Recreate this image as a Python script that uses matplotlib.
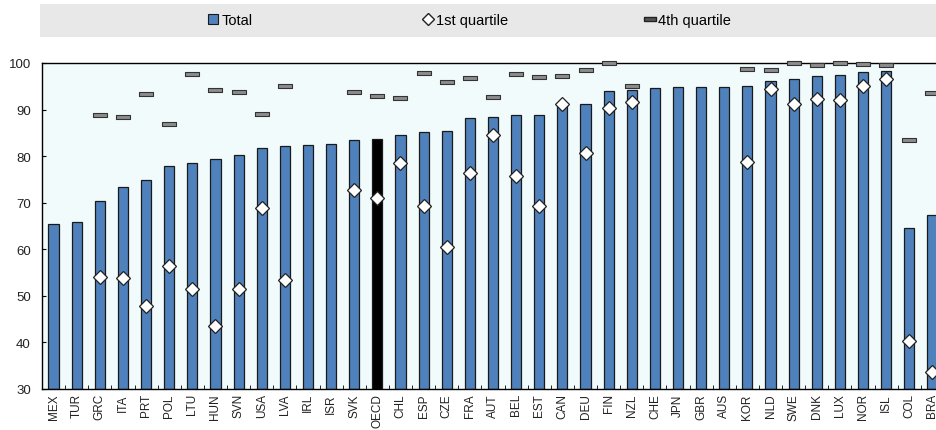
import matplotlib
matplotlib.use("Agg")
import matplotlib.pyplot as plt
from matplotlib import font_manager
from matplotlib.lines import Line2D
from matplotlib.patches import Patch, Rectangle
import numpy as np

# Data
paises = ["MEX", "TUR", "GRC", "ITA", "PRT", "POL", "LTU", "HUN", "SVN", "USA",
          "LVA", "IRL", "ISR", "SVK", "OECD", "CHL", "ESP", "CZE", "FRA", "AUT",
          "BEL", "EST", "CAN", "DEU", "FIN", "NZL", "CHE", "JPN", "GBR", "AUS",
          "KOR", "NLD", "SWE", "DNK", "LUX", "NOR", "ISL", "COL", "BRA"]
total = [65.4, 65.8, 70.4, 73.4, 74.9, 77.9, 78.5, 79.3, 80.2, 81.8,
         82.2, 82.3, 82.7, 83.5, 83.6, 84.5, 85.1, 85.5, 88.2, 88.4,
         88.8, 88.9, 91.3, 91.3, 93.9, 94.1, 94.6, 94.9, 94.9, 94.9,
         95.1, 96.1, 96.6, 97.3, 97.5, 98.1, 98.3, 64.6, 67.4]
q1 = [np.nan, np.nan, 54.1, 53.9, 47.8, 56.4, 51.5, 43.5, 51.5, 68.8,
      53.4, np.nan, np.nan, 72.8, 71.0, 78.6, 69.3, 60.4, 76.4, 84.5,
      75.8, 69.3, 91.1, 80.6, 90.4, 91.6, np.nan, np.nan, np.nan, np.nan,
      78.8, 94.4, 91.1, 92.3, 92.0, 95.1, 96.6, 40.2, 33.6]
q4 = [np.nan, np.nan, 88.8, 88.5, 93.3, 86.8, 97.6, 94.3, 93.8, 89.0,
      95.0, np.nan, np.nan, 93.7, 92.9, 92.4, 97.9, 96.0, 96.8, 92.6,
      97.6, 97.1, 97.3, 98.4, 100.0, 95.1, np.nan, np.nan, np.nan, np.nan,
      98.7, 98.5, 100.0, 99.6, 100.0, 99.7, 99.6, 83.5, 93.6]

# Fonte (narrow se existir)
nomes = {f.name for f in font_manager.fontManager.ttflist}
fonte = "Liberation Sans Narrow" if "Liberation Sans Narrow" in nomes else "Liberation Sans"
plt.rcParams["font.family"] = [fonte, "DejaVu Sans"]

azul = "#4f81bd"
borda = "#1a1a1a"
cores = ["#000000" if p == "OECD" else azul for p in paises]

fig = plt.figure(figsize=(9.36, 4.31), dpi=100)
ax = fig.add_axes([42 / 936, 41 / 431, 902 / 936, 326 / 431])
ax.set_facecolor("#f2fbfc")

x = np.arange(len(paises))
ax.bar(x, [t - 30 for t in total], bottom=30, width=0.44, color=cores,
       edgecolor=borda, linewidth=0.9, zorder=2)

# marcador retangular para o 4o quartil
traco = [(-3.5, -1), (3.5, -1), (3.5, 1), (-3.5, 1), (-3.5, -1)]
ax.plot(x, q4, linestyle="none", marker=traco, markersize=10,
        markerfacecolor="#8c8c8c", markeredgecolor="#333333",
        markeredgewidth=0.8, zorder=3, clip_on=False)
ax.plot(x, q1, linestyle="none", marker="D", markersize=7.5,
        markerfacecolor="white", markeredgecolor="#222222",
        markeredgewidth=0.9, zorder=4, clip_on=False)

ax.set_xlim(-0.5, len(paises) - 0.5)
ax.set_ylim(30, 100)
ax.set_yticks(range(30, 101, 10))
ax.tick_params(axis="y", direction="in", length=3, labelsize=9.5,
               labelcolor="#222222", pad=8)
ax.set_xticks(x)
ax.set_xticklabels(paises, rotation=90, fontsize=8.5, color="#222222")
ax.set_xticks(x[:-1] + 0.5, minor=True)
ax.tick_params(axis="x", which="major", length=0, pad=3)
ax.tick_params(axis="x", which="minor", direction="in", length=3)
for s in ax.spines.values():
    s.set_color("black")
    s.set_linewidth(1.0)

# Legenda em faixa cinza no topo
fig.patches.append(Rectangle((40 / 936, 1 - 38 / 431), 896 / 936, 33 / 431,
                             transform=fig.transFigure, facecolor="#e8e8e8",
                             edgecolor="none", zorder=0))
itens = [
    (Patch(facecolor=azul, edgecolor=borda, linewidth=0.8), "Total", 208),
    (Line2D([], [], linestyle="none", marker="D", markersize=6,
            markerfacecolor="white", markeredgecolor="#222222"), "1st quartile", 423),
    (Line2D([], [], linestyle="none", marker=traco, markersize=8,
            markerfacecolor="#555555", markeredgecolor="#222222"), "4th quartile", 645),
]
for h, rotulo, px in itens:
    leg = fig.legend([h], [rotulo], loc="center left",
                     bbox_to_anchor=(px / 936, 1 - 21 / 431), frameon=False,
                     fontsize=10.5, handlelength=0.7, handleheight=0.7,
                     handletextpad=0.2, borderpad=0, borderaxespad=0)

plt.savefig("out.png", dpi=100)
